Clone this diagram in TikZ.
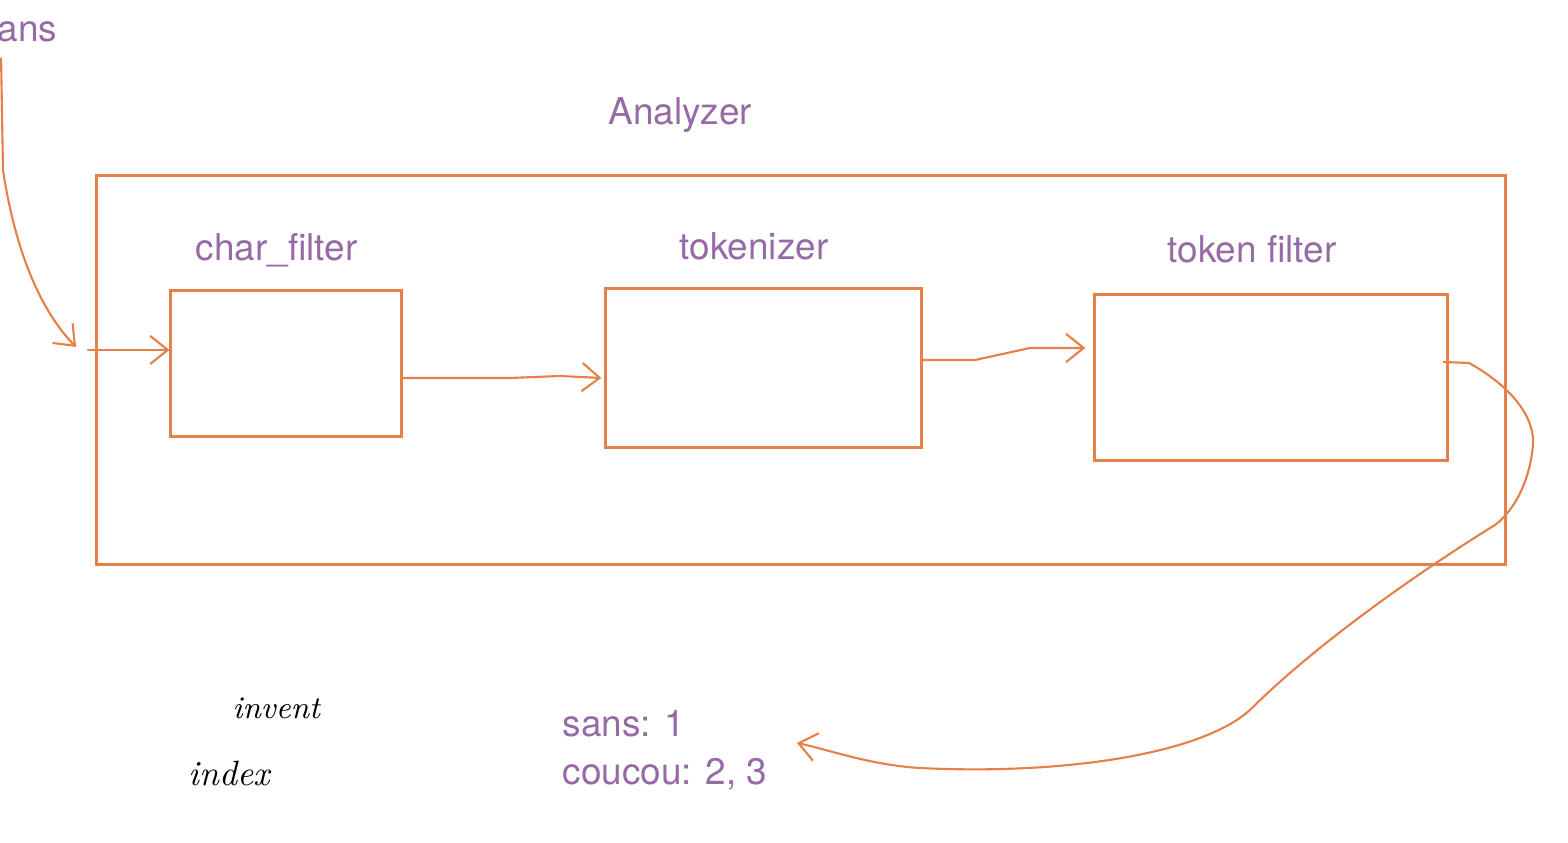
\documentclass[tikz,border=0pt]{standalone}
\usepackage{fontspec}
\setmainfont{TeX Gyre Heros}
\newfontfamily\handfont{Latin Modern Roman}
\usetikzlibrary{arrows.meta}
\definecolor{lineor}{RGB}{228,128,72}
\definecolor{textpu}{RGB}{150,106,164}

\begin{document}
\begin{tikzpicture}[x=0.01cm,y=-0.01cm]
\tikzstyle{stage}=[rectangle,draw=lineor,line width=0.85pt,inner sep=0pt]
\tikzstyle{ptext}=[text=textpu,font=\fontsize{10.5}{12.6}\selectfont,inner sep=0pt,anchor=base]
\tikzstyle{hand}=[text=black,inner sep=0pt,anchor=base west]
\tikzstyle{flow}=[draw=lineor,line width=0.6pt,line cap=round,line join=round,-{Straight Barb[length=5pt,width=8pt]}]
\useasboundingbox (0,0) rectangle (1568,843);

\node [stage,minimum width=14.08cm,minimum height=3.88cm] (analyzer) at (801,370) {};
\node [stage,minimum width=2.30cm,minimum height=1.45cm] (charf) at (286,363.5) {};
\node [stage,minimum width=3.15cm,minimum height=1.58cm] (tok) at (763.5,368) {};
\node [stage,minimum width=3.52cm,minimum height=1.65cm] (tf) at (1271,377.5) {};

\node [ptext] (an) at (680.5,125) {Analyzer};
\node [ptext] (cfl) at (276.5,261) {char\_filter};
\node [ptext] (tkl) at (754,260) {tokenizer};
\node [ptext] (tfl) at (1252,263) {token filter};
\node [ptext,anchor=base east] (ans) at (58,42) {ans};
\node [ptext,anchor=base west] (idx1) at (562,737) {sans: 1};
\node [ptext,anchor=base west] (idx2) at (562,785) {coucou: 2, 3};

\node [hand,font=\handfont\itshape\fontsize{9}{10}\selectfont] (inv) at (232,719) {invent};
\node [hand,font=\handfont\itshape\fontsize{10}{11}\selectfont] (ind) at (188,786) {index};

\coordinate (feed) at (88,350);
\coordinate (idxin) at (797,743);

\draw [flow] ([xshift=0.4mm,yshift=-1.5mm]ans.south west) -- (3,170)
  .. controls (15,250) and (40,310) .. (76,347);
\draw [flow] (feed) -- (feed -| charf.west);
\draw [flow] ([yshift=-1.45mm]charf.east) -- (510,378) -- (560,376)
  -- ([xshift=-0.3mm,yshift=-1mm]tok.west);
\draw [flow] ([yshift=0.8mm]tok.east) -- (975,360) -- (1030,348)
  -- ([xshift=-0.8mm,yshift=2.95mm]tf.west);
\draw [flow] ([xshift=-0.5mm,yshift=1.55mm]tf.east) -- (1469,363)
  .. controls (1500,380) and (1535,410) .. (1533,445)
  .. controls (1530,480) and (1515,510) .. (1495,525)
  .. controls (1430,565) and (1320,640) .. (1250,710)
  .. controls (1200,755) and (1060,775) .. (920,768)
  .. controls (870,765) and (830,750) .. (idxin);
\end{tikzpicture}
\end{document}
